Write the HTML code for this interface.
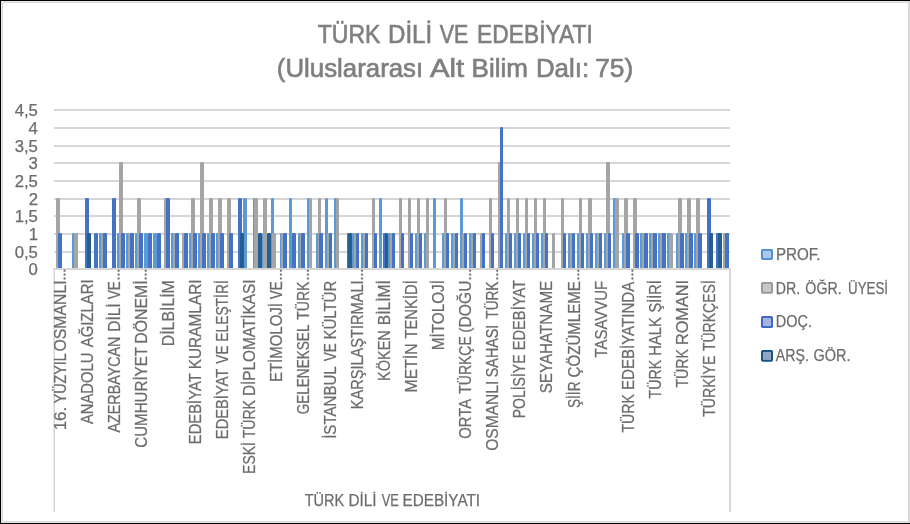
<!DOCTYPE html>
<html><head><meta charset="utf-8"><title>chart</title>
<style>html,body{margin:0;padding:0;background:#fff;}svg{display:block;will-change:transform}text{font-family:"Liberation Sans",sans-serif;}</style></head><body>
<svg width="910" height="524" viewBox="0 0 910 524">
<rect x="0" y="0" width="910" height="524" fill="#fff"/>
<rect x="1" y="1" width="909" height="1" fill="#e6e6e6"/>
<rect x="2" y="2" width="908" height="1" fill="#d9d9d9"/>
<rect x="1" y="1" width="1" height="522" fill="#e6e6e6"/>
<rect x="2" y="2" width="1" height="520" fill="#d9d9d9"/>
<rect x="2" y="521" width="908" height="1" fill="#d9d9d9"/>
<rect x="1" y="522" width="909" height="1" fill="#e6e6e6"/>
<rect x="908" y="1" width="2" height="522" fill="#d9d9d9"/>
<rect x="0" y="0" width="910" height="1" fill="#000"/>
<rect x="0" y="0" width="1" height="524" fill="#000"/>
<rect x="0" y="523" width="910" height="1" fill="#000"/>
<g fill="#d6d6d6">
<rect x="54" y="251" width="676" height="2"/>
<rect x="54" y="233" width="676" height="2"/>
<rect x="54" y="215" width="676" height="2"/>
<rect x="54" y="198" width="676" height="2"/>
<rect x="54" y="180" width="676" height="2"/>
<rect x="54" y="162" width="676" height="2"/>
<rect x="54" y="145" width="676" height="2"/>
<rect x="54" y="127" width="676" height="2"/>
<rect x="54" y="109" width="676" height="2"/>
</g>
<g>
<path d="M72.00 268.00V234.30Q72.00 233.00 73.30 233.00H74.70Q76.00 233.00 76.00 234.30V268.00Z" fill="#5b9bd5"/>
<path d="M99.00 268.00V234.30Q99.00 233.00 100.30 233.00H101.70Q103.00 233.00 103.00 234.30V268.00Z" fill="#5b9bd5"/>
<path d="M117.00 268.00V234.30Q117.00 233.00 118.30 233.00H119.70Q121.00 233.00 121.00 234.30V268.00Z" fill="#5b9bd5"/>
<path d="M126.00 268.00V234.30Q126.00 233.00 127.30 233.00H128.70Q130.00 233.00 130.00 234.30V268.00Z" fill="#5b9bd5"/>
<path d="M135.00 268.00V234.30Q135.00 233.00 136.30 233.00H137.70Q139.00 233.00 139.00 234.30V268.00Z" fill="#5b9bd5"/>
<path d="M144.00 268.00V234.30Q144.00 233.00 145.30 233.00H146.70Q148.00 233.00 148.00 234.30V268.00Z" fill="#5b9bd5"/>
<path d="M153.00 268.00V234.30Q153.00 233.00 154.30 233.00H155.70Q157.00 233.00 157.00 234.30V268.00Z" fill="#5b9bd5"/>
<path d="M171.00 268.00V234.30Q171.00 233.00 172.30 233.00H173.70Q175.00 233.00 175.00 234.30V268.00Z" fill="#5b9bd5"/>
<path d="M189.00 268.00V234.30Q189.00 233.00 190.30 233.00H191.70Q193.00 233.00 193.00 234.30V268.00Z" fill="#5b9bd5"/>
<path d="M198.00 268.00V234.30Q198.00 233.00 199.30 233.00H200.70Q202.00 233.00 202.00 234.30V268.00Z" fill="#5b9bd5"/>
<path d="M207.00 268.00V234.30Q207.00 233.00 208.30 233.00H209.70Q211.00 233.00 211.00 234.30V268.00Z" fill="#5b9bd5"/>
<path d="M216.00 268.00V234.30Q216.00 233.00 217.30 233.00H218.70Q220.00 233.00 220.00 234.30V268.00Z" fill="#5b9bd5"/>
<path d="M243.00 268.00V199.30Q243.00 198.00 244.30 198.00H245.70Q247.00 198.00 247.00 199.30V268.00Z" fill="#5b9bd5"/>
<path d="M253.00 268.00V199.30Q253.00 198.00 254.30 198.00H254.70Q256.00 198.00 256.00 199.30V268.00Z" fill="#5b9bd5"/>
<path d="M262.00 268.00V234.30Q262.00 233.00 263.30 233.00H263.70Q265.00 233.00 265.00 234.30V268.00Z" fill="#5b9bd5"/>
<path d="M271.00 268.00V199.30Q271.00 198.00 272.30 198.00H272.70Q274.00 198.00 274.00 199.30V268.00Z" fill="#5b9bd5"/>
<path d="M280.00 268.00V234.30Q280.00 233.00 281.30 233.00H281.70Q283.00 233.00 283.00 234.30V268.00Z" fill="#5b9bd5"/>
<path d="M289.00 268.00V199.30Q289.00 198.00 290.30 198.00H290.70Q292.00 198.00 292.00 199.30V268.00Z" fill="#5b9bd5"/>
<path d="M298.00 268.00V234.30Q298.00 233.00 299.30 233.00H299.70Q301.00 233.00 301.00 234.30V268.00Z" fill="#5b9bd5"/>
<path d="M307.00 268.00V199.30Q307.00 198.00 308.30 198.00H308.70Q310.00 198.00 310.00 199.30V268.00Z" fill="#5b9bd5"/>
<path d="M316.00 268.00V234.30Q316.00 233.00 317.30 233.00H317.70Q319.00 233.00 319.00 234.30V268.00Z" fill="#5b9bd5"/>
<path d="M325.00 268.00V199.30Q325.00 198.00 326.30 198.00H326.70Q328.00 198.00 328.00 199.30V268.00Z" fill="#5b9bd5"/>
<path d="M334.00 268.00V199.30Q334.00 198.00 335.30 198.00H335.70Q337.00 198.00 337.00 199.30V268.00Z" fill="#5b9bd5"/>
<path d="M352.00 268.00V234.30Q352.00 233.00 353.30 233.00H353.70Q355.00 233.00 355.00 234.30V268.00Z" fill="#5b9bd5"/>
<path d="M361.00 268.00V234.30Q361.00 233.00 362.30 233.00H362.70Q364.00 233.00 364.00 234.30V268.00Z" fill="#5b9bd5"/>
<path d="M379.00 268.00V199.30Q379.00 198.00 380.30 198.00H380.70Q382.00 198.00 382.00 199.30V268.00Z" fill="#5b9bd5"/>
<path d="M388.00 268.00V234.30Q388.00 233.00 389.30 233.00H389.70Q391.00 233.00 391.00 234.30V268.00Z" fill="#5b9bd5"/>
<path d="M415.00 268.00V234.30Q415.00 233.00 416.30 233.00H416.70Q418.00 233.00 418.00 234.30V268.00Z" fill="#5b9bd5"/>
<path d="M424.00 268.00V234.30Q424.00 233.00 425.30 233.00H425.70Q427.00 233.00 427.00 234.30V268.00Z" fill="#5b9bd5"/>
<path d="M433.00 268.00V199.30Q433.00 198.00 434.30 198.00H434.70Q436.00 198.00 436.00 199.30V268.00Z" fill="#5b9bd5"/>
<path d="M442.00 268.00V234.30Q442.00 233.00 443.30 233.00H443.70Q445.00 233.00 445.00 234.30V268.00Z" fill="#5b9bd5"/>
<path d="M451.00 268.00V234.30Q451.00 233.00 452.30 233.00H452.70Q454.00 233.00 454.00 234.30V268.00Z" fill="#5b9bd5"/>
<path d="M460.00 268.00V199.30Q460.00 198.00 461.30 198.00H461.70Q463.00 198.00 463.00 199.30V268.00Z" fill="#5b9bd5"/>
<path d="M469.00 268.00V234.30Q469.00 233.00 470.30 233.00H470.70Q472.00 233.00 472.00 234.30V268.00Z" fill="#5b9bd5"/>
<path d="M505.00 268.00V234.30Q505.00 233.00 506.30 233.00H506.70Q508.00 233.00 508.00 234.30V268.00Z" fill="#5b9bd5"/>
<path d="M514.00 268.00V234.30Q514.00 233.00 515.30 233.00H515.70Q517.00 233.00 517.00 234.30V268.00Z" fill="#5b9bd5"/>
<path d="M523.00 268.00V234.30Q523.00 233.00 524.30 233.00H524.70Q526.00 233.00 526.00 234.30V268.00Z" fill="#5b9bd5"/>
<path d="M532.00 268.00V234.30Q532.00 233.00 533.30 233.00H533.70Q535.00 233.00 535.00 234.30V268.00Z" fill="#5b9bd5"/>
<path d="M541.00 268.00V234.30Q541.00 233.00 542.30 233.00H542.70Q544.00 233.00 544.00 234.30V268.00Z" fill="#5b9bd5"/>
<path d="M568.00 268.00V234.30Q568.00 233.00 569.30 233.00H570.70Q572.00 233.00 572.00 234.30V268.00Z" fill="#5b9bd5"/>
<path d="M577.00 268.00V234.30Q577.00 233.00 578.30 233.00H579.70Q581.00 233.00 581.00 234.30V268.00Z" fill="#5b9bd5"/>
<path d="M586.00 268.00V234.30Q586.00 233.00 587.30 233.00H588.70Q590.00 233.00 590.00 234.30V268.00Z" fill="#5b9bd5"/>
<path d="M595.00 268.00V234.30Q595.00 233.00 596.30 233.00H597.70Q599.00 233.00 599.00 234.30V268.00Z" fill="#5b9bd5"/>
<path d="M604.00 268.00V234.30Q604.00 233.00 605.30 233.00H606.70Q608.00 233.00 608.00 234.30V268.00Z" fill="#5b9bd5"/>
<path d="M613.00 268.00V199.30Q613.00 198.00 614.30 198.00H615.70Q617.00 198.00 617.00 199.30V268.00Z" fill="#5b9bd5"/>
<path d="M622.00 268.00V234.30Q622.00 233.00 623.30 233.00H624.70Q626.00 233.00 626.00 234.30V268.00Z" fill="#5b9bd5"/>
<path d="M640.00 268.00V234.30Q640.00 233.00 641.30 233.00H642.70Q644.00 233.00 644.00 234.30V268.00Z" fill="#5b9bd5"/>
<path d="M649.00 268.00V234.30Q649.00 233.00 650.30 233.00H651.70Q653.00 233.00 653.00 234.30V268.00Z" fill="#5b9bd5"/>
<path d="M658.00 268.00V234.30Q658.00 233.00 659.30 233.00H660.70Q662.00 233.00 662.00 234.30V268.00Z" fill="#5b9bd5"/>
<path d="M667.00 268.00V234.30Q667.00 233.00 668.30 233.00H669.70Q671.00 233.00 671.00 234.30V268.00Z" fill="#5b9bd5"/>
<path d="M676.00 268.00V234.30Q676.00 233.00 677.30 233.00H678.70Q680.00 233.00 680.00 234.30V268.00Z" fill="#5b9bd5"/>
<path d="M685.00 268.00V234.30Q685.00 233.00 686.30 233.00H687.70Q689.00 233.00 689.00 234.30V268.00Z" fill="#5b9bd5"/>
<path d="M694.00 268.00V234.30Q694.00 233.00 695.30 233.00H696.70Q698.00 233.00 698.00 234.30V268.00Z" fill="#5b9bd5"/>
<path d="M56.00 268.00V199.30Q56.00 198.00 57.30 198.00H58.70Q60.00 198.00 60.00 199.30V268.00Z" fill="#a5a5a5"/>
<path d="M74.00 268.00V234.30Q74.00 233.00 75.30 233.00H76.70Q78.00 233.00 78.00 234.30V268.00Z" fill="#a5a5a5"/>
<path d="M101.00 268.00V234.30Q101.00 233.00 102.30 233.00H103.70Q105.00 233.00 105.00 234.30V268.00Z" fill="#a5a5a5"/>
<path d="M119.00 268.00V163.30Q119.00 162.00 120.30 162.00H121.70Q123.00 162.00 123.00 163.30V268.00Z" fill="#a5a5a5"/>
<path d="M128.00 268.00V234.30Q128.00 233.00 129.30 233.00H130.70Q132.00 233.00 132.00 234.30V268.00Z" fill="#a5a5a5"/>
<path d="M137.00 268.00V199.30Q137.00 198.00 138.30 198.00H139.70Q141.00 198.00 141.00 199.30V268.00Z" fill="#a5a5a5"/>
<path d="M164.00 268.00V199.30Q164.00 198.00 165.30 198.00H166.70Q168.00 198.00 168.00 199.30V268.00Z" fill="#a5a5a5"/>
<path d="M173.00 268.00V234.30Q173.00 233.00 174.30 233.00H175.70Q177.00 233.00 177.00 234.30V268.00Z" fill="#a5a5a5"/>
<path d="M182.00 268.00V234.30Q182.00 233.00 183.30 233.00H184.70Q186.00 233.00 186.00 234.30V268.00Z" fill="#a5a5a5"/>
<path d="M191.00 268.00V199.30Q191.00 198.00 192.30 198.00H193.70Q195.00 198.00 195.00 199.30V268.00Z" fill="#a5a5a5"/>
<path d="M200.00 268.00V163.30Q200.00 162.00 201.30 162.00H202.70Q204.00 162.00 204.00 163.30V268.00Z" fill="#a5a5a5"/>
<path d="M209.00 268.00V199.30Q209.00 198.00 210.30 198.00H211.70Q213.00 198.00 213.00 199.30V268.00Z" fill="#a5a5a5"/>
<path d="M218.00 268.00V199.30Q218.00 198.00 219.30 198.00H220.70Q222.00 198.00 222.00 199.30V268.00Z" fill="#a5a5a5"/>
<path d="M227.00 268.00V199.30Q227.00 198.00 228.30 198.00H229.70Q231.00 198.00 231.00 199.30V268.00Z" fill="#a5a5a5"/>
<path d="M254.00 268.00V199.30Q254.00 198.00 255.30 198.00H256.70Q258.00 198.00 258.00 199.30V268.00Z" fill="#a5a5a5"/>
<path d="M263.00 268.00V199.30Q263.00 198.00 264.30 198.00H265.70Q267.00 198.00 267.00 199.30V268.00Z" fill="#a5a5a5"/>
<path d="M272.00 268.00V234.30Q272.00 233.00 273.30 233.00H274.70Q276.00 233.00 276.00 234.30V268.00Z" fill="#a5a5a5"/>
<path d="M281.00 268.00V234.30Q281.00 233.00 282.30 233.00H283.70Q285.00 233.00 285.00 234.30V268.00Z" fill="#a5a5a5"/>
<path d="M300.00 268.00V234.30Q300.00 233.00 301.30 233.00H301.70Q303.00 233.00 303.00 234.30V268.00Z" fill="#a5a5a5"/>
<path d="M309.00 268.00V199.30Q309.00 198.00 310.30 198.00H310.70Q312.00 198.00 312.00 199.30V268.00Z" fill="#a5a5a5"/>
<path d="M318.00 268.00V199.30Q318.00 198.00 319.30 198.00H319.70Q321.00 198.00 321.00 199.30V268.00Z" fill="#a5a5a5"/>
<path d="M327.00 268.00V234.30Q327.00 233.00 328.30 233.00H328.70Q330.00 233.00 330.00 234.30V268.00Z" fill="#a5a5a5"/>
<path d="M336.00 268.00V199.30Q336.00 198.00 337.30 198.00H337.70Q339.00 198.00 339.00 199.30V268.00Z" fill="#a5a5a5"/>
<path d="M354.00 268.00V234.30Q354.00 233.00 355.30 233.00H355.70Q357.00 233.00 357.00 234.30V268.00Z" fill="#a5a5a5"/>
<path d="M363.00 268.00V234.30Q363.00 233.00 364.30 233.00H364.70Q366.00 233.00 366.00 234.30V268.00Z" fill="#a5a5a5"/>
<path d="M372.00 268.00V199.30Q372.00 198.00 373.30 198.00H373.70Q375.00 198.00 375.00 199.30V268.00Z" fill="#a5a5a5"/>
<path d="M390.00 268.00V234.30Q390.00 233.00 391.30 233.00H391.70Q393.00 233.00 393.00 234.30V268.00Z" fill="#a5a5a5"/>
<path d="M399.00 268.00V199.30Q399.00 198.00 400.30 198.00H400.70Q402.00 198.00 402.00 199.30V268.00Z" fill="#a5a5a5"/>
<path d="M408.00 268.00V199.30Q408.00 198.00 409.30 198.00H409.70Q411.00 198.00 411.00 199.30V268.00Z" fill="#a5a5a5"/>
<path d="M417.00 268.00V199.30Q417.00 198.00 418.30 198.00H418.70Q420.00 198.00 420.00 199.30V268.00Z" fill="#a5a5a5"/>
<path d="M426.00 268.00V199.30Q426.00 198.00 427.30 198.00H427.70Q429.00 198.00 429.00 199.30V268.00Z" fill="#a5a5a5"/>
<path d="M444.00 268.00V199.30Q444.00 198.00 445.30 198.00H445.70Q447.00 198.00 447.00 199.30V268.00Z" fill="#a5a5a5"/>
<path d="M453.00 268.00V234.30Q453.00 233.00 454.30 233.00H454.70Q456.00 233.00 456.00 234.30V268.00Z" fill="#a5a5a5"/>
<path d="M462.00 268.00V234.30Q462.00 233.00 463.30 233.00H463.70Q465.00 233.00 465.00 234.30V268.00Z" fill="#a5a5a5"/>
<path d="M471.00 268.00V234.30Q471.00 233.00 472.30 233.00H472.70Q474.00 233.00 474.00 234.30V268.00Z" fill="#a5a5a5"/>
<path d="M480.00 268.00V234.30Q480.00 233.00 481.30 233.00H481.70Q483.00 233.00 483.00 234.30V268.00Z" fill="#a5a5a5"/>
<path d="M489.00 268.00V199.30Q489.00 198.00 490.30 198.00H490.70Q492.00 198.00 492.00 199.30V268.00Z" fill="#a5a5a5"/>
<path d="M498.00 268.00V163.30Q498.00 162.00 499.30 162.00H499.70Q501.00 162.00 501.00 163.30V268.00Z" fill="#a5a5a5"/>
<path d="M507.00 268.00V199.30Q507.00 198.00 508.30 198.00H508.70Q510.00 198.00 510.00 199.30V268.00Z" fill="#a5a5a5"/>
<path d="M516.00 268.00V199.30Q516.00 198.00 517.30 198.00H517.70Q519.00 198.00 519.00 199.30V268.00Z" fill="#a5a5a5"/>
<path d="M525.00 268.00V199.30Q525.00 198.00 526.30 198.00H526.70Q528.00 198.00 528.00 199.30V268.00Z" fill="#a5a5a5"/>
<path d="M534.00 268.00V199.30Q534.00 198.00 535.30 198.00H535.70Q537.00 198.00 537.00 199.30V268.00Z" fill="#a5a5a5"/>
<path d="M543.00 268.00V199.30Q543.00 198.00 544.30 198.00H544.70Q546.00 198.00 546.00 199.30V268.00Z" fill="#a5a5a5"/>
<path d="M552.00 268.00V234.30Q552.00 233.00 553.30 233.00H553.70Q555.00 233.00 555.00 234.30V268.00Z" fill="#a5a5a5"/>
<path d="M561.00 268.00V199.30Q561.00 198.00 562.30 198.00H562.70Q564.00 198.00 564.00 199.30V268.00Z" fill="#a5a5a5"/>
<path d="M570.00 268.00V234.30Q570.00 233.00 571.30 233.00H571.70Q573.00 233.00 573.00 234.30V268.00Z" fill="#a5a5a5"/>
<path d="M579.00 268.00V199.30Q579.00 198.00 580.30 198.00H580.70Q582.00 198.00 582.00 199.30V268.00Z" fill="#a5a5a5"/>
<path d="M588.00 268.00V199.30Q588.00 198.00 589.30 198.00H590.70Q592.00 198.00 592.00 199.30V268.00Z" fill="#a5a5a5"/>
<path d="M597.00 268.00V234.30Q597.00 233.00 598.30 233.00H599.70Q601.00 233.00 601.00 234.30V268.00Z" fill="#a5a5a5"/>
<path d="M606.00 268.00V163.30Q606.00 162.00 607.30 162.00H608.70Q610.00 162.00 610.00 163.30V268.00Z" fill="#a5a5a5"/>
<path d="M615.00 268.00V199.30Q615.00 198.00 616.30 198.00H617.70Q619.00 198.00 619.00 199.30V268.00Z" fill="#a5a5a5"/>
<path d="M624.00 268.00V199.30Q624.00 198.00 625.30 198.00H626.70Q628.00 198.00 628.00 199.30V268.00Z" fill="#a5a5a5"/>
<path d="M633.00 268.00V199.30Q633.00 198.00 634.30 198.00H635.70Q637.00 198.00 637.00 199.30V268.00Z" fill="#a5a5a5"/>
<path d="M642.00 268.00V234.30Q642.00 233.00 643.30 233.00H644.70Q646.00 233.00 646.00 234.30V268.00Z" fill="#a5a5a5"/>
<path d="M651.00 268.00V234.30Q651.00 233.00 652.30 233.00H653.70Q655.00 233.00 655.00 234.30V268.00Z" fill="#a5a5a5"/>
<path d="M660.00 268.00V234.30Q660.00 233.00 661.30 233.00H662.70Q664.00 233.00 664.00 234.30V268.00Z" fill="#a5a5a5"/>
<path d="M669.00 268.00V234.30Q669.00 233.00 670.30 233.00H671.70Q673.00 233.00 673.00 234.30V268.00Z" fill="#a5a5a5"/>
<path d="M678.00 268.00V199.30Q678.00 198.00 679.30 198.00H680.70Q682.00 198.00 682.00 199.30V268.00Z" fill="#a5a5a5"/>
<path d="M687.00 268.00V199.30Q687.00 198.00 688.30 198.00H689.70Q691.00 198.00 691.00 199.30V268.00Z" fill="#a5a5a5"/>
<path d="M696.00 268.00V199.30Q696.00 198.00 697.30 198.00H698.70Q700.00 198.00 700.00 199.30V268.00Z" fill="#a5a5a5"/>
<path d="M723.00 268.00V234.30Q723.00 233.00 724.30 233.00H725.70Q727.00 233.00 727.00 234.30V268.00Z" fill="#a5a5a5"/>
<path d="M58.00 268.00V234.30Q58.00 233.00 59.30 233.00H60.70Q62.00 233.00 62.00 234.30V268.00Z" fill="#4472c4"/>
<path d="M85.00 268.00V199.30Q85.00 198.00 86.30 198.00H87.70Q89.00 198.00 89.00 199.30V268.00Z" fill="#4472c4"/>
<path d="M94.00 268.00V234.30Q94.00 233.00 95.30 233.00H96.70Q98.00 233.00 98.00 234.30V268.00Z" fill="#4472c4"/>
<path d="M103.00 268.00V234.30Q103.00 233.00 104.30 233.00H105.70Q107.00 233.00 107.00 234.30V268.00Z" fill="#4472c4"/>
<path d="M112.00 268.00V199.30Q112.00 198.00 113.30 198.00H114.70Q116.00 198.00 116.00 199.30V268.00Z" fill="#4472c4"/>
<path d="M121.00 268.00V234.30Q121.00 233.00 122.30 233.00H123.70Q125.00 233.00 125.00 234.30V268.00Z" fill="#4472c4"/>
<path d="M130.00 268.00V234.30Q130.00 233.00 131.30 233.00H132.70Q134.00 233.00 134.00 234.30V268.00Z" fill="#4472c4"/>
<path d="M139.00 268.00V234.30Q139.00 233.00 140.30 233.00H141.70Q143.00 233.00 143.00 234.30V268.00Z" fill="#4472c4"/>
<path d="M148.00 268.00V234.30Q148.00 233.00 149.30 233.00H150.70Q152.00 233.00 152.00 234.30V268.00Z" fill="#4472c4"/>
<path d="M157.00 268.00V234.30Q157.00 233.00 158.30 233.00H159.70Q161.00 233.00 161.00 234.30V268.00Z" fill="#4472c4"/>
<path d="M166.00 268.00V199.30Q166.00 198.00 167.30 198.00H168.70Q170.00 198.00 170.00 199.30V268.00Z" fill="#4472c4"/>
<path d="M175.00 268.00V234.30Q175.00 233.00 176.30 233.00H177.70Q179.00 233.00 179.00 234.30V268.00Z" fill="#4472c4"/>
<path d="M184.00 268.00V234.30Q184.00 233.00 185.30 233.00H186.70Q188.00 233.00 188.00 234.30V268.00Z" fill="#4472c4"/>
<path d="M193.00 268.00V234.30Q193.00 233.00 194.30 233.00H195.70Q197.00 233.00 197.00 234.30V268.00Z" fill="#4472c4"/>
<path d="M202.00 268.00V234.30Q202.00 233.00 203.30 233.00H204.70Q206.00 233.00 206.00 234.30V268.00Z" fill="#4472c4"/>
<path d="M211.00 268.00V234.30Q211.00 233.00 212.30 233.00H213.70Q215.00 233.00 215.00 234.30V268.00Z" fill="#4472c4"/>
<path d="M220.00 268.00V234.30Q220.00 233.00 221.30 233.00H222.70Q224.00 233.00 224.00 234.30V268.00Z" fill="#4472c4"/>
<path d="M229.00 268.00V234.30Q229.00 233.00 230.30 233.00H231.70Q233.00 233.00 233.00 234.30V268.00Z" fill="#4472c4"/>
<path d="M238.00 268.00V199.30Q238.00 198.00 239.30 198.00H240.70Q242.00 198.00 242.00 199.30V268.00Z" fill="#4472c4"/>
<path d="M283.00 268.00V234.30Q283.00 233.00 284.30 233.00H285.70Q287.00 233.00 287.00 234.30V268.00Z" fill="#4472c4"/>
<path d="M292.00 268.00V234.30Q292.00 233.00 293.30 233.00H294.70Q296.00 233.00 296.00 234.30V268.00Z" fill="#4472c4"/>
<path d="M301.00 268.00V234.30Q301.00 233.00 302.30 233.00H303.70Q305.00 233.00 305.00 234.30V268.00Z" fill="#4472c4"/>
<path d="M319.00 268.00V234.30Q319.00 233.00 320.30 233.00H321.70Q323.00 233.00 323.00 234.30V268.00Z" fill="#4472c4"/>
<path d="M329.00 268.00V234.30Q329.00 233.00 330.30 233.00H330.70Q332.00 233.00 332.00 234.30V268.00Z" fill="#4472c4"/>
<path d="M347.00 268.00V234.30Q347.00 233.00 348.30 233.00H348.70Q350.00 233.00 350.00 234.30V268.00Z" fill="#4472c4"/>
<path d="M356.00 268.00V234.30Q356.00 233.00 357.30 233.00H357.70Q359.00 233.00 359.00 234.30V268.00Z" fill="#4472c4"/>
<path d="M365.00 268.00V234.30Q365.00 233.00 366.30 233.00H366.70Q368.00 233.00 368.00 234.30V268.00Z" fill="#4472c4"/>
<path d="M374.00 268.00V234.30Q374.00 233.00 375.30 233.00H375.70Q377.00 233.00 377.00 234.30V268.00Z" fill="#4472c4"/>
<path d="M383.00 268.00V234.30Q383.00 233.00 384.30 233.00H384.70Q386.00 233.00 386.00 234.30V268.00Z" fill="#4472c4"/>
<path d="M392.00 268.00V234.30Q392.00 233.00 393.30 233.00H393.70Q395.00 233.00 395.00 234.30V268.00Z" fill="#4472c4"/>
<path d="M401.00 268.00V234.30Q401.00 233.00 402.30 233.00H402.70Q404.00 233.00 404.00 234.30V268.00Z" fill="#4472c4"/>
<path d="M410.00 268.00V234.30Q410.00 233.00 411.30 233.00H411.70Q413.00 233.00 413.00 234.30V268.00Z" fill="#4472c4"/>
<path d="M419.00 268.00V234.30Q419.00 233.00 420.30 233.00H420.70Q422.00 233.00 422.00 234.30V268.00Z" fill="#4472c4"/>
<path d="M446.00 268.00V234.30Q446.00 233.00 447.30 233.00H447.70Q449.00 233.00 449.00 234.30V268.00Z" fill="#4472c4"/>
<path d="M455.00 268.00V234.30Q455.00 233.00 456.30 233.00H456.70Q458.00 233.00 458.00 234.30V268.00Z" fill="#4472c4"/>
<path d="M464.00 268.00V234.30Q464.00 233.00 465.30 233.00H465.70Q467.00 233.00 467.00 234.30V268.00Z" fill="#4472c4"/>
<path d="M473.00 268.00V234.30Q473.00 233.00 474.30 233.00H474.70Q476.00 233.00 476.00 234.30V268.00Z" fill="#4472c4"/>
<path d="M482.00 268.00V234.30Q482.00 233.00 483.30 233.00H483.70Q485.00 233.00 485.00 234.30V268.00Z" fill="#4472c4"/>
<path d="M491.00 268.00V234.30Q491.00 233.00 492.30 233.00H492.70Q494.00 233.00 494.00 234.30V268.00Z" fill="#4472c4"/>
<path d="M500.00 268.00V128.30Q500.00 127.00 501.30 127.00H501.70Q503.00 127.00 503.00 128.30V268.00Z" fill="#4472c4"/>
<path d="M509.00 268.00V234.30Q509.00 233.00 510.30 233.00H510.70Q512.00 233.00 512.00 234.30V268.00Z" fill="#4472c4"/>
<path d="M518.00 268.00V234.30Q518.00 233.00 519.30 233.00H519.70Q521.00 233.00 521.00 234.30V268.00Z" fill="#4472c4"/>
<path d="M527.00 268.00V234.30Q527.00 233.00 528.30 233.00H528.70Q530.00 233.00 530.00 234.30V268.00Z" fill="#4472c4"/>
<path d="M536.00 268.00V234.30Q536.00 233.00 537.30 233.00H537.70Q539.00 233.00 539.00 234.30V268.00Z" fill="#4472c4"/>
<path d="M545.00 268.00V234.30Q545.00 233.00 546.30 233.00H546.70Q548.00 233.00 548.00 234.30V268.00Z" fill="#4472c4"/>
<path d="M563.00 268.00V234.30Q563.00 233.00 564.30 233.00H564.70Q566.00 233.00 566.00 234.30V268.00Z" fill="#4472c4"/>
<path d="M572.00 268.00V234.30Q572.00 233.00 573.30 233.00H573.70Q575.00 233.00 575.00 234.30V268.00Z" fill="#4472c4"/>
<path d="M581.00 268.00V234.30Q581.00 233.00 582.30 233.00H582.70Q584.00 233.00 584.00 234.30V268.00Z" fill="#4472c4"/>
<path d="M590.00 268.00V234.30Q590.00 233.00 591.30 233.00H591.70Q593.00 233.00 593.00 234.30V268.00Z" fill="#4472c4"/>
<path d="M599.00 268.00V234.30Q599.00 233.00 600.30 233.00H600.70Q602.00 233.00 602.00 234.30V268.00Z" fill="#4472c4"/>
<path d="M608.00 268.00V234.30Q608.00 233.00 609.30 233.00H609.70Q611.00 233.00 611.00 234.30V268.00Z" fill="#4472c4"/>
<path d="M626.00 268.00V234.30Q626.00 233.00 627.30 233.00H628.70Q630.00 233.00 630.00 234.30V268.00Z" fill="#4472c4"/>
<path d="M635.00 268.00V234.30Q635.00 233.00 636.30 233.00H637.70Q639.00 233.00 639.00 234.30V268.00Z" fill="#4472c4"/>
<path d="M644.00 268.00V234.30Q644.00 233.00 645.30 233.00H646.70Q648.00 233.00 648.00 234.30V268.00Z" fill="#4472c4"/>
<path d="M653.00 268.00V234.30Q653.00 233.00 654.30 233.00H655.70Q657.00 233.00 657.00 234.30V268.00Z" fill="#4472c4"/>
<path d="M662.00 268.00V234.30Q662.00 233.00 663.30 233.00H664.70Q666.00 233.00 666.00 234.30V268.00Z" fill="#4472c4"/>
<path d="M680.00 268.00V234.30Q680.00 233.00 681.30 233.00H682.70Q684.00 233.00 684.00 234.30V268.00Z" fill="#4472c4"/>
<path d="M689.00 268.00V234.30Q689.00 233.00 690.30 233.00H691.70Q693.00 233.00 693.00 234.30V268.00Z" fill="#4472c4"/>
<path d="M698.00 268.00V234.30Q698.00 233.00 699.30 233.00H700.70Q702.00 233.00 702.00 234.30V268.00Z" fill="#4472c4"/>
<path d="M707.00 268.00V199.30Q707.00 198.00 708.30 198.00H709.70Q711.00 198.00 711.00 199.30V268.00Z" fill="#4472c4"/>
<path d="M716.00 268.00V234.30Q716.00 233.00 717.30 233.00H718.70Q720.00 233.00 720.00 234.30V268.00Z" fill="#4472c4"/>
<path d="M725.00 268.00V234.30Q725.00 233.00 726.30 233.00H727.70Q729.00 233.00 729.00 234.30V268.00Z" fill="#4472c4"/>
<path d="M87.00 268.00V234.30Q87.00 233.00 88.30 233.00H89.70Q91.00 233.00 91.00 234.30V268.00Z" fill="#255e91"/>
<path d="M240.00 268.00V234.30Q240.00 233.00 241.30 233.00H242.70Q244.00 233.00 244.00 234.30V268.00Z" fill="#255e91"/>
<path d="M258.00 268.00V234.30Q258.00 233.00 259.30 233.00H260.70Q262.00 233.00 262.00 234.30V268.00Z" fill="#255e91"/>
<path d="M267.00 268.00V234.30Q267.00 233.00 268.30 233.00H269.70Q271.00 233.00 271.00 234.30V268.00Z" fill="#255e91"/>
<path d="M348.00 268.00V234.30Q348.00 233.00 349.30 233.00H350.70Q352.00 233.00 352.00 234.30V268.00Z" fill="#255e91"/>
<path d="M385.00 268.00V234.30Q385.00 233.00 386.30 233.00H386.70Q388.00 233.00 388.00 234.30V268.00Z" fill="#255e91"/>
<path d="M709.00 268.00V234.30Q709.00 233.00 710.30 233.00H711.70Q713.00 233.00 713.00 234.30V268.00Z" fill="#255e91"/>
<path d="M718.00 268.00V234.30Q718.00 233.00 719.30 233.00H720.70Q722.00 233.00 722.00 234.30V268.00Z" fill="#255e91"/>
</g>
<g fill="#d6d6d6">
<rect x="53.5" y="268" width="677.5" height="2"/>
<rect x="53.5" y="268" width="1.5" height="244"/>
<rect x="729" y="268" width="2" height="244"/>
</g>
<g fill="#7f7f7f" stroke="#7f7f7f" stroke-width="0.65" font-size="26.2">
<text x="317.74" y="42.90" textLength="62.59" lengthAdjust="spacingAndGlyphs">TÜRK</text>
<text x="387.97" y="42.90" textLength="44.30" lengthAdjust="spacingAndGlyphs">DİLİ</text>
<text x="439.79" y="42.90" textLength="28.55" lengthAdjust="spacingAndGlyphs">VE</text>
<text x="477.08" y="42.90" textLength="115.68" lengthAdjust="spacingAndGlyphs">EDEBİYATI</text>
<text x="276.80" y="76.70" textLength="146.41" lengthAdjust="spacingAndGlyphs">(Uluslararası</text>
<text x="430.00" y="76.70" textLength="34.21" lengthAdjust="spacingAndGlyphs">Alt</text>
<text x="471.62" y="76.70" textLength="56.39" lengthAdjust="spacingAndGlyphs">Bilim</text>
<text x="535.93" y="76.70" textLength="53.23" lengthAdjust="spacingAndGlyphs">Dalı:</text>
<text x="595.18" y="76.70" textLength="38.15" lengthAdjust="spacingAndGlyphs">75)</text>
</g>
<g fill="#6c6c6c" stroke="#6c6c6c" stroke-width="0.25" font-size="16.7">
<text x="28.55" y="274.70" textLength="9.30" lengthAdjust="spacingAndGlyphs">0</text>
<text x="14.67" y="257.70" textLength="23.26" lengthAdjust="spacingAndGlyphs">0,5</text>
<text x="28.72" y="239.70" textLength="9.30" lengthAdjust="spacingAndGlyphs">1</text>
<text x="14.67" y="221.70" textLength="23.26" lengthAdjust="spacingAndGlyphs">1,5</text>
<text x="28.80" y="204.70" textLength="9.30" lengthAdjust="spacingAndGlyphs">2</text>
<text x="14.67" y="186.70" textLength="23.26" lengthAdjust="spacingAndGlyphs">2,5</text>
<text x="28.63" y="168.70" textLength="9.30" lengthAdjust="spacingAndGlyphs">3</text>
<text x="14.67" y="151.70" textLength="23.26" lengthAdjust="spacingAndGlyphs">3,5</text>
<text x="28.47" y="133.70" textLength="9.30" lengthAdjust="spacingAndGlyphs">4</text>
<text x="14.67" y="115.70" textLength="23.26" lengthAdjust="spacingAndGlyphs">4,5</text>
</g>
<g fill="#6c6c6c" stroke="#6c6c6c" stroke-width="0.25" font-size="16.4">
<circle cx="64.55" cy="270.65" r="1.0"/>
<circle cx="64.55" cy="274.60" r="1.0"/>
<circle cx="64.55" cy="278.50" r="1.0"/>
<text transform="translate(65.75 429.10) rotate(-90)" x="-1.27" textLength="23.59" lengthAdjust="spacingAndGlyphs">16.</text>
<text transform="translate(65.75 403.00) rotate(-90)" x="-0.36" textLength="50.00" lengthAdjust="spacingAndGlyphs">YÜZYIL</text>
<text transform="translate(65.75 350.80) rotate(-90)" x="-0.71" textLength="71.15" lengthAdjust="spacingAndGlyphs">OSMANLI</text>
<text transform="translate(92.79 424.00) rotate(-90)" x="0.00" textLength="71.38" lengthAdjust="spacingAndGlyphs">ANADOLU</text>
<text transform="translate(92.79 347.30) rotate(-90)" x="0.00" textLength="67.87" lengthAdjust="spacingAndGlyphs">AĞIZLARI</text>
<circle cx="118.63" cy="270.65" r="1.0"/>
<circle cx="118.63" cy="274.60" r="1.0"/>
<circle cx="118.63" cy="278.50" r="1.0"/>
<text transform="translate(119.83 432.50) rotate(-90)" x="0.00" textLength="95.95" lengthAdjust="spacingAndGlyphs">AZERBAYCAN</text>
<text transform="translate(119.83 330.50) rotate(-90)" x="-1.24" textLength="28.39" lengthAdjust="spacingAndGlyphs">DİLİ</text>
<text transform="translate(119.83 299.30) rotate(-90)" x="-0.07" textLength="18.17" lengthAdjust="spacingAndGlyphs">VE</text>
<circle cx="145.67" cy="270.65" r="1.0"/>
<circle cx="145.67" cy="274.60" r="1.0"/>
<circle cx="145.67" cy="278.50" r="1.0"/>
<text transform="translate(146.87 447.00) rotate(-90)" x="-0.76" textLength="100.78" lengthAdjust="spacingAndGlyphs">CUMHURİYET</text>
<text transform="translate(146.87 342.40) rotate(-90)" x="-1.27" textLength="63.37" lengthAdjust="spacingAndGlyphs">DÖNEMİ</text>
<text transform="translate(173.91 345.00) rotate(-90)" x="-1.27" textLength="66.09" lengthAdjust="spacingAndGlyphs">DİLBİLİM</text>
<text transform="translate(200.95 443.00) rotate(-90)" x="-1.18" textLength="70.93" lengthAdjust="spacingAndGlyphs">EDEBİYAT</text>
<text transform="translate(200.95 368.12) rotate(-90)" x="-1.23" textLength="89.91" lengthAdjust="spacingAndGlyphs">KURAMLARI</text>
<text transform="translate(227.99 438.00) rotate(-90)" x="-1.18" textLength="70.51" lengthAdjust="spacingAndGlyphs">EDEBİYAT</text>
<text transform="translate(227.99 363.57) rotate(-90)" x="-0.07" textLength="18.13" lengthAdjust="spacingAndGlyphs">VE</text>
<text transform="translate(227.99 340.67) rotate(-90)" x="-1.11" textLength="61.54" lengthAdjust="spacingAndGlyphs">ELEŞTİRİ</text>
<text transform="translate(255.03 472.80) rotate(-90)" x="-1.12" textLength="31.77" lengthAdjust="spacingAndGlyphs">ESKİ</text>
<text transform="translate(255.03 438.02) rotate(-90)" x="-0.28" textLength="38.24" lengthAdjust="spacingAndGlyphs">TÜRK</text>
<text transform="translate(255.03 394.80) rotate(-90)" x="-1.23" textLength="116.58" lengthAdjust="spacingAndGlyphs">DİPLOMATİKASI</text>
<circle cx="280.87" cy="270.65" r="1.0"/>
<circle cx="280.87" cy="274.60" r="1.0"/>
<circle cx="280.87" cy="278.50" r="1.0"/>
<text transform="translate(282.07 380.90) rotate(-90)" x="-1.20" textLength="79.02" lengthAdjust="spacingAndGlyphs">ETİMOLOJİ</text>
<text transform="translate(282.07 299.09) rotate(-90)" x="-0.07" textLength="17.95" lengthAdjust="spacingAndGlyphs">VE</text>
<circle cx="307.91" cy="270.65" r="1.0"/>
<circle cx="307.91" cy="274.60" r="1.0"/>
<circle cx="307.91" cy="278.50" r="1.0"/>
<text transform="translate(309.11 413.70) rotate(-90)" x="-0.68" textLength="89.82" lengthAdjust="spacingAndGlyphs">GELENEKSEL</text>
<text transform="translate(309.11 319.53) rotate(-90)" x="-0.28" textLength="38.18" lengthAdjust="spacingAndGlyphs">TÜRK</text>
<text transform="translate(336.15 437.50) rotate(-90)" x="-1.36" textLength="72.57" lengthAdjust="spacingAndGlyphs">İSTANBUL</text>
<text transform="translate(336.15 361.31) rotate(-90)" x="-0.07" textLength="18.17" lengthAdjust="spacingAndGlyphs">VE</text>
<text transform="translate(336.15 338.36) rotate(-90)" x="-1.20" textLength="58.75" lengthAdjust="spacingAndGlyphs">KÜLTÜR</text>
<circle cx="361.99" cy="270.65" r="1.0"/>
<circle cx="361.99" cy="274.60" r="1.0"/>
<circle cx="361.99" cy="278.50" r="1.0"/>
<text transform="translate(363.19 408.10) rotate(-90)" x="-1.17" textLength="128.80" lengthAdjust="spacingAndGlyphs">KARŞILAŞTIRMALI</text>
<text transform="translate(390.23 379.90) rotate(-90)" x="-1.16" textLength="50.94" lengthAdjust="spacingAndGlyphs">KÖKEN</text>
<text transform="translate(390.23 323.90) rotate(-90)" x="-1.25" textLength="45.02" lengthAdjust="spacingAndGlyphs">BİLİMİ</text>
<text transform="translate(417.27 391.20) rotate(-90)" x="-1.26" textLength="49.04" lengthAdjust="spacingAndGlyphs">METİN</text>
<text transform="translate(417.27 338.30) rotate(-90)" x="-0.30" textLength="58.40" lengthAdjust="spacingAndGlyphs">TENKİDİ</text>
<text transform="translate(444.31 349.10) rotate(-90)" x="-1.22" textLength="70.25" lengthAdjust="spacingAndGlyphs">MİTOLOJİ</text>
<circle cx="470.15" cy="270.65" r="1.0"/>
<circle cx="470.15" cy="274.60" r="1.0"/>
<circle cx="470.15" cy="278.50" r="1.0"/>
<text transform="translate(471.35 438.10) rotate(-90)" x="-0.67" textLength="39.78" lengthAdjust="spacingAndGlyphs">ORTA</text>
<text transform="translate(471.35 393.40) rotate(-90)" x="-0.28" textLength="57.36" lengthAdjust="spacingAndGlyphs">TÜRKÇE</text>
<text transform="translate(471.35 331.70) rotate(-90)" x="-0.94" textLength="52.06" lengthAdjust="spacingAndGlyphs">(DOĞU</text>
<circle cx="497.19" cy="270.65" r="1.0"/>
<circle cx="497.19" cy="274.60" r="1.0"/>
<circle cx="497.19" cy="278.50" r="1.0"/>
<text transform="translate(498.39 450.10) rotate(-90)" x="-0.70" textLength="70.12" lengthAdjust="spacingAndGlyphs">OSMANLI</text>
<text transform="translate(498.39 376.60) rotate(-90)" x="-0.65" textLength="52.58" lengthAdjust="spacingAndGlyphs">SAHASI</text>
<text transform="translate(498.39 318.40) rotate(-90)" x="-0.27" textLength="37.04" lengthAdjust="spacingAndGlyphs">TÜRK</text>
<text transform="translate(525.43 417.20) rotate(-90)" x="-1.12" textLength="63.82" lengthAdjust="spacingAndGlyphs">POLİSİYE</text>
<text transform="translate(525.43 349.10) rotate(-90)" x="-1.17" textLength="70.30" lengthAdjust="spacingAndGlyphs">EDEBİYAT</text>
<text transform="translate(552.47 392.60) rotate(-90)" x="-0.68" textLength="112.45" lengthAdjust="spacingAndGlyphs">SEYAHATNAME</text>
<circle cx="578.31" cy="270.65" r="1.0"/>
<circle cx="578.31" cy="274.60" r="1.0"/>
<circle cx="578.31" cy="278.50" r="1.0"/>
<text transform="translate(579.51 407.50) rotate(-90)" x="-0.62" textLength="26.64" lengthAdjust="spacingAndGlyphs">ŞİİR</text>
<text transform="translate(579.51 376.68) rotate(-90)" x="-0.75" textLength="96.31" lengthAdjust="spacingAndGlyphs">ÇÖZÜMLEME</text>
<text transform="translate(606.55 357.20) rotate(-90)" x="-0.30" textLength="76.61" lengthAdjust="spacingAndGlyphs">TASAVVUF</text>
<circle cx="632.39" cy="270.65" r="1.0"/>
<circle cx="632.39" cy="274.60" r="1.0"/>
<circle cx="632.39" cy="278.50" r="1.0"/>
<text transform="translate(633.59 432.30) rotate(-90)" x="-0.28" textLength="38.45" lengthAdjust="spacingAndGlyphs">TÜRK</text>
<text transform="translate(633.59 388.84) rotate(-90)" x="-1.21" textLength="108.27" lengthAdjust="spacingAndGlyphs">EDEBİYATINDA</text>
<text transform="translate(660.63 398.20) rotate(-90)" x="-0.28" textLength="38.60" lengthAdjust="spacingAndGlyphs">TÜRK</text>
<text transform="translate(660.63 354.56) rotate(-90)" x="-1.18" textLength="38.61" lengthAdjust="spacingAndGlyphs">HALK</text>
<text transform="translate(660.63 311.83) rotate(-90)" x="-0.65" textLength="32.33" lengthAdjust="spacingAndGlyphs">ŞİİRİ</text>
<text transform="translate(687.67 387.30) rotate(-90)" x="-0.28" textLength="38.51" lengthAdjust="spacingAndGlyphs">TÜRK</text>
<text transform="translate(687.67 343.77) rotate(-90)" x="-1.30" textLength="65.12" lengthAdjust="spacingAndGlyphs">ROMANI</text>
<text transform="translate(714.71 416.50) rotate(-90)" x="-0.28" textLength="61.11" lengthAdjust="spacingAndGlyphs">TÜRKİYE</text>
<text transform="translate(714.71 350.81) rotate(-90)" x="-0.28" textLength="70.87" lengthAdjust="spacingAndGlyphs">TÜRKÇESİ</text>
</g>
<g fill="#6c6c6c" stroke="#6c6c6c" stroke-width="0.25" font-size="16.4">
<text x="304.71" y="505.70" textLength="39.47" lengthAdjust="spacingAndGlyphs">TÜRK</text>
<text x="348.38" y="505.70" textLength="28.06" lengthAdjust="spacingAndGlyphs">DİLİ</text>
<text x="381.64" y="505.70" textLength="17.13" lengthAdjust="spacingAndGlyphs">VE</text>
<text x="402.58" y="505.70" textLength="77.40" lengthAdjust="spacingAndGlyphs">EDEBİYATI</text>
</g>
<g fill="#6c6c6c" stroke="#6c6c6c" stroke-width="0.25" font-size="16.4">
<rect x="761" y="249.0" width="12" height="11.0" rx="1.7" fill="#4d8fd1" stroke="none"/>
<rect x="762.9" y="250.9" width="8.2" height="7.2" fill="#abc9ea" stroke="none"/>
<text x="775.89" y="259.80" textLength="44.65" lengthAdjust="spacingAndGlyphs">PROF.</text>
<rect x="761" y="282.0" width="12" height="11.8" rx="1.7" fill="#989898" stroke="none"/>
<rect x="762.9" y="283.9" width="8.2" height="8.0" fill="#c8c8c8" stroke="none"/>
<text x="775.86" y="293.70" textLength="24.44" lengthAdjust="spacingAndGlyphs">DR.</text>
<text x="805.36" y="293.70" textLength="36.22" lengthAdjust="spacingAndGlyphs">ÖĞR.</text>
<text x="848.10" y="293.70" textLength="39.91" lengthAdjust="spacingAndGlyphs">ÜYESİ</text>
<rect x="761" y="316.0" width="12" height="12.0" rx="1.7" fill="#3766c0" stroke="none"/>
<rect x="762.9" y="317.9" width="8.2" height="8.2" fill="#a5b3df" stroke="none"/>
<text x="775.74" y="326.90" textLength="36.24" lengthAdjust="spacingAndGlyphs">DOÇ.</text>
<rect x="761" y="350.0" width="12" height="11.8" rx="1.7" fill="#16508a" stroke="none"/>
<rect x="762.9" y="351.9" width="8.2" height="8.0" fill="#94a5c4" stroke="none"/>
<text x="775.80" y="360.80" textLength="33.03" lengthAdjust="spacingAndGlyphs">ARŞ.</text>
<text x="813.48" y="360.80" textLength="36.93" lengthAdjust="spacingAndGlyphs">GÖR.</text>
</g>
</svg></body></html>
